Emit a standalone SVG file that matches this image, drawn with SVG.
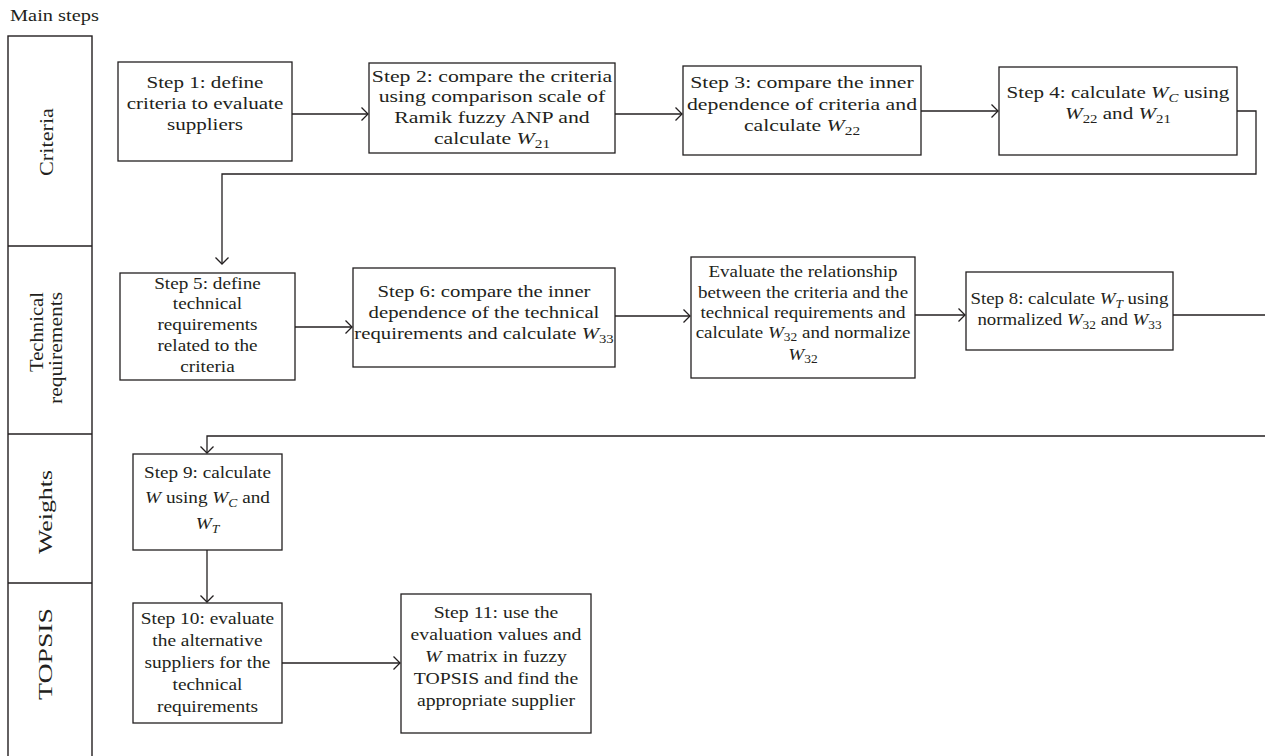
<svg xmlns="http://www.w3.org/2000/svg" width="1265" height="756" viewBox="0 0 1265 756">
<defs>
<style>
.box{fill:#fff;stroke:#231f20;stroke-width:1.3}
.lane{fill:none;stroke:#231f20;stroke-width:1.4}
.t{font-family:"Liberation Serif","Times New Roman",serif;font-size:17px;fill:#231f20;text-anchor:middle}
.l{font-family:"Liberation Serif","Times New Roman",serif;font-size:18px;fill:#231f20;text-anchor:middle}
.i{font-style:italic}
.s{font-size:12px}
.c{fill:none;stroke:#231f20;stroke-width:1.3}
</style>
<marker id="arr" viewBox="-8 -8 16 16" markerWidth="16" markerHeight="16" refX="0" refY="0" orient="auto" markerUnits="userSpaceOnUse">
<path d="M-6.5,-6.5 L0,0 L-6.5,6.5" fill="none" stroke="#231f20" stroke-width="1.3"/>
</marker>
</defs>
<rect width="1265" height="756" fill="#fff"/>

<g id="title">
<text class="t" x="10" y="21" style="text-anchor:start" transform="matrix(1.2 0 0 1 -2 0)">Main steps</text>
</g>

<g id="lanes">
<rect class="lane" x="8" y="36" width="84" height="740"/>
<line class="lane" x1="8" y1="246" x2="92" y2="246"/>
<line class="lane" x1="8" y1="434" x2="92" y2="434"/>
<line class="lane" x1="8" y1="583" x2="92" y2="583"/>
<text class="l" transform="translate(53,142) rotate(-90)" textLength="68" lengthAdjust="spacingAndGlyphs">Criteria</text>
<text class="l" transform="translate(43,292) rotate(-90)" style="text-anchor:end" textLength="80" lengthAdjust="spacingAndGlyphs">Technical</text>
<text class="l" transform="translate(62,292) rotate(-90)" style="text-anchor:end" textLength="112" lengthAdjust="spacingAndGlyphs">requirements</text>
<text class="l" transform="translate(52,512) rotate(-90)" textLength="84" lengthAdjust="spacingAndGlyphs">Weights</text>
<text class="l" transform="translate(52,654) rotate(-90)" textLength="92" lengthAdjust="spacingAndGlyphs">TOPSIS</text>
</g>

<g id="connectors">
<path class="c" d="M292,114 H368" marker-end="url(#arr)"/>
<path class="c" d="M615,114 H682" marker-end="url(#arr)"/>
<path class="c" d="M921,111 H998" marker-end="url(#arr)"/>
<path class="c" d="M1237,111 H1256 V174 H222 V264" marker-end="url(#arr)"/>
<path class="c" d="M295,327 H352" marker-end="url(#arr)"/>
<path class="c" d="M615,316 H690" marker-end="url(#arr)"/>
<path class="c" d="M915,315 H965" marker-end="url(#arr)"/>
<path class="c" d="M1173,315 H1266"/>
<path class="c" d="M1266,436 H207 V453" marker-end="url(#arr)"/>
<path class="c" d="M207,550 V602" marker-end="url(#arr)"/>
<path class="c" d="M282,663 H400" marker-end="url(#arr)"/>
</g>

<g id="step1">
<rect class="box" x="118" y="62" width="174" height="99"/>
<g transform="matrix(1.24 0 0 1 -49.2 0)">
<text class="t" x="205" y="88">Step 1: define</text>
<text class="t" x="205" y="109">criteria to evaluate</text>
<text class="t" x="205" y="130">suppliers</text>
</g>
</g>

<g id="step2">
<rect class="box" x="369" y="63" width="246" height="90"/>
<g transform="matrix(1.28 0 0 1 -137.76 0)">
<text class="t" x="492" y="82">Step 2: compare the criteria</text>
<text class="t" x="492" y="102">using comparison scale of</text>
<text class="t" x="492" y="123">Ramik fuzzy ANP and</text>
<text class="t" x="492" y="144">calculate <tspan class="i">W</tspan><tspan class="s" dy="4">21</tspan></text>
</g>
</g>

<g id="step3">
<rect class="box" x="683" y="66" width="238" height="89"/>
<g transform="matrix(1.28 0 0 1 -224.56 0)">
<text class="t" x="802" y="88">Step 3: compare the inner</text>
<text class="t" x="802" y="110">dependence of criteria and</text>
<text class="t" x="802" y="131">calculate <tspan class="i">W</tspan><tspan class="s" dy="4">22</tspan></text>
</g>
</g>

<g id="step4">
<rect class="box" x="999" y="67" width="238" height="88"/>
<g transform="matrix(1.24 0 0 1 -268.32 0)">
<text class="t" x="1118" y="98">Step 4: calculate <tspan class="i">W</tspan><tspan class="s i" dy="4">C</tspan><tspan dy="-4"> using</tspan></text>
<text class="t" x="1118" y="119"><tspan class="i">W</tspan><tspan class="s" dy="4">22</tspan><tspan dy="-4"> and </tspan><tspan class="i">W</tspan><tspan class="s" dy="4">21</tspan></text>
</g>
</g>

<g id="step5">
<rect class="box" x="120" y="273" width="175" height="107"/>
<g transform="matrix(1.13 0 0 1 -26.975 0)">
<text class="t" x="207.5" y="289">Step 5: define</text>
<text class="t" x="207.5" y="309">technical</text>
<text class="t" x="207.5" y="330">requirements</text>
<text class="t" x="207.5" y="351">related to the</text>
<text class="t" x="207.5" y="372">criteria</text>
</g>
</g>

<g id="step6">
<rect class="box" x="353" y="268" width="262" height="99"/>
<g transform="matrix(1.22 0 0 1 -106.48 0)">
<text class="t" x="484" y="297">Step 6: compare the inner</text>
<text class="t" x="484" y="318">dependence of the technical</text>
<text class="t" x="484" y="339">requirements and calculate <tspan class="i">W</tspan><tspan class="s" dy="4">33</tspan></text>
</g>
</g>

<g id="step7">
<rect class="box" x="691" y="257" width="224" height="121"/>
<g transform="matrix(1.12 0 0 1 -96.36 0)">
<text class="t" x="803" y="277">Evaluate the relationship</text>
<text class="t" x="803" y="298">between the criteria and the</text>
<text class="t" x="803" y="318">technical requirements and</text>
<text class="t" x="803" y="338">calculate <tspan class="i">W</tspan><tspan class="s" dy="3">32</tspan><tspan dy="-3"> and normalize</tspan></text>
<text class="t" x="803" y="360"><tspan class="i">W</tspan><tspan class="s" dy="3">32</tspan></text>
</g>
</g>

<g id="step8">
<rect class="box" x="966" y="272" width="207" height="78"/>
<g transform="matrix(1.11 0 0 1 -117.645 0)">
<text class="t" x="1069.5" y="304">Step 8: calculate <tspan class="i">W</tspan><tspan class="s i" dy="4">T</tspan><tspan dy="-4"> using</tspan></text>
<text class="t" x="1069.5" y="325">normalized <tspan class="i">W</tspan><tspan class="s" dy="4">32</tspan><tspan dy="-4"> and </tspan><tspan class="i">W</tspan><tspan class="s" dy="4">33</tspan></text>
</g>
</g>

<g id="step9">
<rect class="box" x="133" y="454" width="149" height="96"/>
<g transform="matrix(1.13 0 0 1 -26.975 0)">
<text class="t" x="207.5" y="478">Step 9: calculate</text>
<text class="t" x="207.5" y="503"><tspan class="i">W</tspan> using <tspan class="i">W</tspan><tspan class="s i" dy="4">C</tspan><tspan dy="-4"> and</tspan></text>
<text class="t" x="207.5" y="529"><tspan class="i">W</tspan><tspan class="s i" dy="4">T</tspan></text>
</g>
</g>

<g id="step10">
<rect class="box" x="133" y="603" width="149" height="120"/>
<g transform="matrix(1.14 0 0 1 -29.05 0)">
<text class="t" x="207.5" y="624">Step 10: evaluate</text>
<text class="t" x="207.5" y="646">the alternative</text>
<text class="t" x="207.5" y="668">suppliers for the</text>
<text class="t" x="207.5" y="690">technical</text>
<text class="t" x="207.5" y="712">requirements</text>
</g>
</g>

<g id="step11">
<rect class="box" x="401" y="594" width="190" height="139"/>
<g transform="matrix(1.16 0 0 1 -79.36 0)">
<text class="t" x="496" y="618">Step 11: use the</text>
<text class="t" x="496" y="640">evaluation values and</text>
<text class="t" x="496" y="662"><tspan class="i">W</tspan> matrix in fuzzy</text>
<text class="t" x="496" y="684">TOPSIS and find the</text>
<text class="t" x="496" y="706">appropriate supplier</text>
</g>
</g>
</svg>
